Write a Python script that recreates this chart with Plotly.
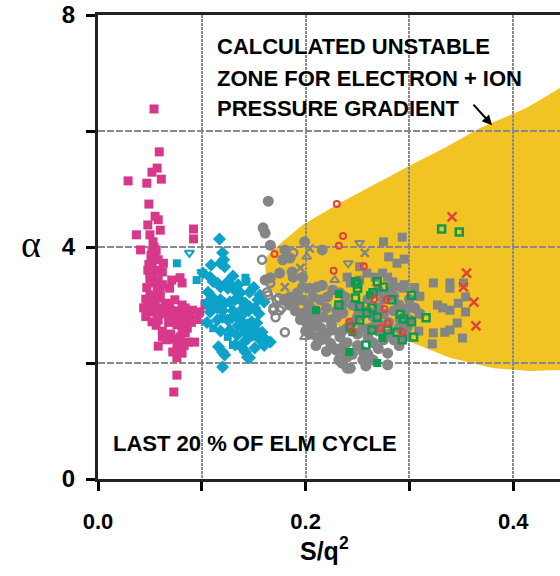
import plotly.graph_objects as go

# ---------------- data (S/q^2, alpha) ----------------
pink_x = [0.054,0.059,0.057,0.052,0.061,0.029,0.047,0.049,0.055,0.058,0.048,0.060,0.037,0.050,0.092,0.092,
          0.053,0.041,0.052,0.055,0.053,0.058,0.063,0.052,0.057,0.062,0.050,0.053,0.058,0.052,0.057,0.071,
          0.079,0.081,0.069,0.050,0.055,0.060,0.052,0.067,0.074,0.081,0.084,0.091,0.098,0.103,0.050,0.057,
          0.052,0.058,0.074,0.079,0.084,0.076,0.081,0.086,0.084,0.062,0.062,0.058,0.074,0.076,0.072,0.087,
          0.093,0.081,0.076,0.076,0.073,0.104,
          0.048,0.050,0.047,0.049,0.046,0.055,0.060,0.062,0.065,0.070,0.072,0.078,0.083,0.088,0.068,0.070,
          0.066,0.079,0.083,0.090,0.095,0.080,0.049,0.051,0.054,0.056,0.046,0.044,0.064,0.069,0.056,0.060]
pink_y = [6.38,5.64,5.36,5.29,5.17,5.14,5.10,4.74,4.53,4.47,4.38,4.29,4.21,4.21,4.31,4.14,
          4.09,3.95,3.91,3.86,3.78,3.78,3.72,3.66,3.60,3.57,3.55,3.48,3.43,3.38,3.31,3.43,
          3.47,3.38,3.29,3.17,3.17,3.12,3.03,3.03,3.09,3.00,2.95,2.91,2.88,3.00,2.88,2.86,
          2.71,2.74,2.83,2.74,2.69,2.66,2.57,2.60,2.52,2.55,2.45,2.29,2.41,2.31,2.19,2.36,
          2.36,2.17,2.09,1.79,1.50,3.02,
          3.60,3.45,3.30,3.00,2.80,3.00,3.25,3.35,3.00,2.90,2.80,2.90,2.85,2.80,2.70,2.50,
          2.40,2.45,2.30,2.70,2.75,2.20,3.70,3.85,4.00,3.95,3.10,2.95,2.85,2.95,2.65,2.95]

cyan_dia_x = [0.117,0.120,0.121,0.118,0.122,0.109,0.108,0.111,0.115,0.118,0.125,0.130,0.134,0.137,0.146,
              0.156,0.154,0.106,0.110,0.105,0.111,0.118,0.122,0.127,0.132,0.137,0.142,0.140,0.146,0.151,
              0.108,0.115,0.120,0.125,0.129,0.134,0.137,0.139,0.144,0.148,0.153,0.127,0.134,0.142,0.145,
              0.149,0.154,0.166,0.139,0.142,0.144,0.146,0.116,0.120,0.122,0.132,0.120,0.151,0.156,0.159,
              0.158,0.130,0.125,0.135,0.150,0.160,0.155,0.120,0.115,0.130,0.140,0.145,0.150,0.135,0.140,
              0.160,0.105,0.118,0.101]
cyan_dia_y = [4.14,3.90,3.78,3.72,3.66,3.69,3.48,3.40,3.38,3.31,3.29,3.29,3.22,3.21,3.22,
              3.17,3.09,3.22,3.14,3.03,3.00,3.09,3.03,3.05,3.09,3.09,3.03,2.95,2.97,2.95,
              2.88,2.74,2.79,2.74,2.78,2.83,2.74,2.62,2.66,2.71,2.69,2.57,2.48,2.52,2.43,
              2.48,2.52,2.36,2.26,2.19,2.10,2.09,2.28,2.19,2.14,2.31,1.93,2.26,2.40,2.45,
              2.53,3.50,3.40,3.35,3.30,3.05,2.85,2.90,2.95,2.90,2.85,2.90,2.60,2.65,2.35,
              2.30,2.70,2.55,3.55]
cyan_sq_x = [0.076,0.095,0.142,0.143,0.111,0.130,0.125]
cyan_sq_y = [3.72,3.43,3.47,3.40,2.60,2.31,2.45]
cyan_tri_x = [0.088,0.100]
cyan_tri_y = [3.90,3.57]

grey_circ_x = [0.164,0.159,0.161,0.166,0.180,0.216,0.178,0.185,0.175,0.187,0.188,0.161,0.166,
               0.197,0.185,0.192,0.197,0.204,0.211,0.216,0.197,0.202,0.207,0.214,0.221,0.226,0.233,0.238,
               0.198,0.204,0.211,0.201,0.207,0.217,0.224,0.230,0.236,0.211,0.217,0.226,0.233,0.224,0.230,
               0.236,0.240,0.235,0.240,0.243,
               0.245,0.250,0.255,0.260,0.265,0.270,0.275,0.280,0.285,0.290,0.260,0.265,0.270,0.275,
               0.255,0.250,0.260,0.265,0.270,0.245,0.240,0.235,0.250,0.255,0.260,0.265,0.270,0.275,
               0.280,0.285,0.290,0.295,0.245,0.240,0.250,0.230,0.235,0.220,0.215,0.220,0.225,0.210,
               0.205,0.190,0.185,0.190,0.180,0.195,0.200,0.205,0.215,0.210,0.220,0.228,0.232,0.238,
               0.255,0.258,0.262,0.268,0.272,0.300,0.305,0.310,0.295,0.290,0.280,0.285,0.279,0.279,
               0.299,0.301,0.298,0.291,0.199]
grey_circ_y = [4.79,4.33,4.24,4.03,3.95,3.95,3.78,3.81,3.55,3.57,3.48,3.43,3.47,
               3.48,3.14,3.21,3.31,3.29,3.31,3.34,3.09,3.03,3.14,3.09,3.14,3.26,3.21,3.14,
               2.86,2.79,2.74,2.69,2.62,2.79,2.74,2.79,2.86,2.45,2.52,2.57,2.45,2.34,2.22,
               2.28,2.10,2.00,1.91,1.91,
               3.00,2.95,2.85,2.90,2.80,2.95,2.85,2.70,2.90,3.00,3.10,3.20,3.25,3.10,
               2.60,2.50,2.45,2.35,2.55,2.70,2.60,2.55,2.30,2.20,2.15,2.05,2.25,2.40,
               2.50,2.40,2.30,2.45,2.15,2.35,2.80,2.90,3.00,2.95,2.60,2.50,2.65,2.90,
               2.95,2.90,3.00,3.05,3.10,2.75,2.55,2.50,2.40,2.30,2.20,2.25,2.05,2.20,
               2.05,1.95,2.60,2.70,2.65,3.10,2.95,2.85,2.80,2.60,3.20,3.15,2.17,1.97,
               2.95,2.74,2.62,2.74,4.09]
grey_open_x = [0.188,0.158,0.163,0.164,0.174,0.177,0.169,0.171,0.172,0.169,0.175,0.166,0.180]
grey_open_y = [3.90,3.78,3.22,3.17,3.12,2.95,2.95,2.79,3.09,2.91,2.91,3.38,2.53]
grey_x_x = [0.204,0.195,0.180,0.257]
grey_x_y = [3.97,3.64,3.31,3.90]
grey_tri_x = [0.201,0.228,0.199]
grey_tri_y = [3.83,3.43,2.45]
grey_tdn_x = [0.252,0.241]
grey_tdn_y = [4.07,3.72]
grey_sq_x = [0.275,0.293,0.280,0.288,0.295,0.252,0.274,0.279,0.259,0.267,0.240,0.243,0.252,
             0.284,0.289,0.294,0.281,0.323,0.339,0.352,0.339,0.354,0.327,0.332,0.339,0.347,0.354,
             0.346,0.334,0.339,0.323,0.351,0.322,0.310,0.305,0.295,0.309]
grey_sq_y = [4.09,4.17,3.83,3.72,3.79,3.66,3.55,3.48,3.55,3.48,3.48,3.38,3.43,
             3.40,3.31,3.29,3.26,3.38,3.38,3.38,3.29,3.14,3.00,2.95,2.91,3.03,2.88,
             2.69,2.53,2.57,2.52,2.43,2.33,3.15,3.30,3.35,2.55]

green_open_x = [0.331,0.348,0.248,0.250,0.269,0.275,0.302,0.248,0.252,0.265,0.232,0.264,0.259,0.252,
                0.269,0.283,0.291,0.294,0.302,0.316,0.243,0.264,0.279,0.288,0.293,0.304,0.258,0.250]
green_open_y = [4.31,4.26,3.40,3.36,3.40,3.31,3.17,3.12,2.98,3.21,3.00,2.95,2.86,2.74,
                2.79,3.09,2.84,2.76,2.71,2.78,2.62,2.57,2.57,2.53,2.40,2.45,2.31,3.29]
green_fill_x = [0.232,0.210,0.245,0.274,0.242,0.269,0.262]
green_fill_y = [3.19,2.91,2.53,2.43,2.19,2.00,3.17]

red_open_x = [0.230,0.236,0.232,0.170,0.227,0.256,0.266,0.278,0.276,0.242,0.245,0.272,0.279,0.293]
red_open_y = [4.74,4.19,4.02,3.88,3.59,3.67,3.10,3.09,2.93,2.71,2.55,2.60,2.69,2.53]
red_x_x = [0.341,0.355,0.352,0.362,0.364]
red_x_y = [4.52,3.55,3.31,3.05,2.64]

# calculated unstable zone boundary
zone_upper_x = [0.161,0.163,0.175,0.197,0.235,0.275,0.301,0.335,0.368,0.413,0.445]
zone_upper_y = [3.66,3.85,4.05,4.38,4.78,5.16,5.41,5.72,6.05,6.40,6.74]
zone_lower_x = [0.445,0.416,0.381,0.339,0.301,0.243,0.195,0.175,0.166,0.162]
zone_lower_y = [1.88,1.86,1.91,2.09,2.36,2.57,2.83,3.10,3.28,3.45]

x_ticks = [0.0, 0.1, 0.2, 0.3, 0.4]
x_tick_text = ["0.0", "", "0.2", "", "0.4"]
y_ticks = [0, 2, 4, 6, 8]
y_tick_text = ["0", "", "4", "", "8"]

# ---------------- styles ----------------
PINK = "#D8388A"
CYAN = "#0CA2C9"
GREY = "#858585"
GREEN = "#0F9A50"
RED = "#E2423A"
YELLOW = "#F2C423"
FONT = "Liberation Sans, Arial, sans-serif"

fig = go.Figure()

def add(x, y, color, symbol, size, lw=0, lc=None):
    fig.add_trace(go.Scatter(
        x=x, y=y, mode="markers", showlegend=False, hoverinfo="skip",
        marker=dict(color=color, symbol=symbol, size=size,
                    line=dict(width=lw, color=lc if lc else color))))

add(pink_x, pink_y, PINK, "square", 9)
add(cyan_dia_x, cyan_dia_y, CYAN, "diamond", 10)
add(cyan_sq_x, cyan_sq_y, CYAN, "square", 8)
add(cyan_tri_x, cyan_tri_y, CYAN, "triangle-down-open", 8, 2)
add(grey_circ_x, grey_circ_y, GREY, "circle", 11)
add(grey_sq_x, grey_sq_y, GREY, "square", 9)
add(grey_open_x, grey_open_y, GREY, "circle-open", 8, 2.5)
add(grey_x_x, grey_x_y, GREY, "x-thin-open", 8, 2.5)
add(grey_tri_x, grey_tri_y, GREY, "triangle-up-open", 8, 2)
add(grey_tdn_x, grey_tdn_y, GREY, "triangle-down-open", 8, 2)
add(green_open_x, green_open_y, GREEN, "square-open", 7, 2.5)
add(green_fill_x, green_fill_y, GREEN, "square", 8)
add(red_open_x, red_open_y, RED, "circle-open", 6, 2)
add(red_x_x, red_x_y, RED, "x-thin-open", 9, 2.5)

# unstable zone as a shape below gridlines
pts = list(zip(zone_upper_x, zone_upper_y)) + list(zip(zone_lower_x, zone_lower_y))
path = "M " + " L ".join(f"{px},{py}" for px, py in pts) + " Z"
fig.add_shape(type="path", path=path, xref="x", yref="y", layer="below",
              fillcolor=YELLOW, line=dict(width=0))

txt = dict(family=FONT, size=22, color="black")
for label, yv in [("<b>CALCULATED UNSTABLE</b>", 7.45),
                  ("<b>ZONE FOR ELECTRON + ION</b>", 6.90),
                  ("<b>PRESSURE GRADIENT</b>", 6.38)]:
    fig.add_annotation(x=0.1127, y=yv, xref="x", yref="y", text=label, showarrow=False,
                       xanchor="left", yanchor="middle", font=txt)
fig.add_annotation(x=0.3796, y=6.10, xref="x", yref="y", text="", showarrow=True,
                   ax=-20, ay=-22, arrowhead=2, arrowsize=1, arrowwidth=2, arrowcolor="black")
fig.add_annotation(x=0.0125, y=0.62, xref="x", yref="y", text="<b>LAST 20 % OF ELM CYCLE</b>",
                   showarrow=False, xanchor="left", yanchor="middle", font=txt)
# axis titles (alpha upright, as in the reference)
fig.add_annotation(x=(31 - 98) / 462, y=(479 - 244) / 464, xref="paper", yref="paper",
                   text="α", showarrow=False, xanchor="center", yanchor="middle",
                   font=dict(family="Liberation Serif, serif", size=38, color="black"))
fig.add_annotation(x=(324 - 98) / 462, y=(479 - 549) / 464, xref="paper", yref="paper",
                   text="<b>S/q<sup>2</sup></b>", showarrow=False,
                   xanchor="center", yanchor="middle",
                   font=dict(family=FONT, size=25, color="black"))

grid = "#8a8a8a"
fig.update_layout(
    width=560, height=576,
    margin=dict(l=98, r=0, t=15, b=97),
    paper_bgcolor="white", plot_bgcolor="white",
    font=dict(family=FONT, color="black"),
    xaxis=dict(range=[0, 0.445], tickvals=x_ticks, ticktext=x_tick_text,
               showgrid=True, gridcolor=grid, gridwidth=2, griddash="3px,1px",
               zeroline=False, showline=True, linecolor="#222", linewidth=3, mirror=True,
               ticks="outside", ticklen=9, tickwidth=3, tickcolor="black",
               tickfont=dict(family=FONT, size=22, color="black", weight="bold"),
               ticklabelstandoff=12),
    yaxis=dict(range=[0, 8], tickvals=y_ticks, ticktext=y_tick_text,
               showgrid=True, gridcolor=grid, gridwidth=2, griddash="7px,2px",
               zeroline=False, showline=True, linecolor="#222", linewidth=3,
               ticks="outside", ticklen=9, tickwidth=3, tickcolor="black",
               tickfont=dict(family=FONT, size=24, color="black", weight="bold"),
               ticklabelstandoff=6),
)

fig.write_html("out.html", config={"displayModeBar": False},
               post_script="document.body.style.margin='0px';document.body.style.overflow='hidden';")
